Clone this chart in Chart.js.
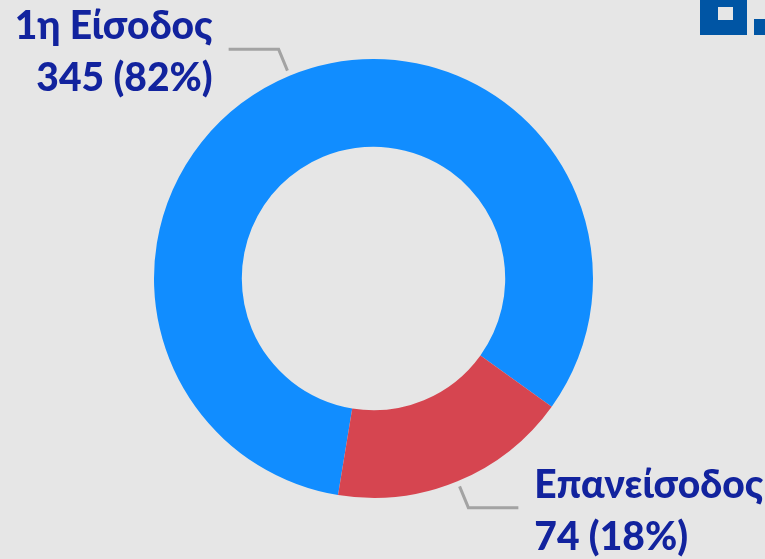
<!DOCTYPE html>
<html>
<head>
<meta charset="utf-8">
<script src="https://cdn.jsdelivr.net/npm/chart.js@4.4.1/dist/chart.umd.min.js"></script>
<style>
html,body{margin:0;padding:0;background:#e6e6e6;}
#wrap{width:765px;height:559px;position:relative;}
</style>
</head>
<body>
<div id="wrap"><canvas id="c" width="765" height="559"></canvas></div>
<script>
const categories = ["1η Είσοδος", "Επανείσοδος"];
const values = [345, 74];
const valueLabels = ["345 (82%)", "74 (18%)"];
const colors = ["#118dff", "#d64550"];

const labelPlugin = {
  id: 'leaderLabels',
  beforeDraw(chart) {
    const ctx = chart.ctx;
    ctx.save();
    ctx.fillStyle = '#0055a4';
    ctx.fillRect(700, 0, 47, 35);
    ctx.fillRect(754, 19, 11, 16);
    ctx.fillStyle = '#e6e6e6';
    ctx.fillRect(718, 7, 15, 13);
    ctx.restore();
  },
  afterDraw(chart) {
    const ctx = chart.ctx;
    const meta = chart.getDatasetMeta(0);
    ctx.save();
    meta.data.forEach((arc, i) => {
      const p = arc.getProps(['x','y','startAngle','endAngle','outerRadius'], true);
      const mid = (p.startAngle + p.endAngle) / 2;
      const c = Math.cos(mid), s = Math.sin(mid);
      const x1 = p.x + c * (p.outerRadius + 5.5), y1 = p.y + s * (p.outerRadius + 5.5);
      const x2 = p.x + c * (p.outerRadius + 28.5), y2 = p.y + s * (p.outerRadius + 28.5);
      const right = c >= 0;
      const x3 = x2 + (right ? 50 : -50);
      ctx.strokeStyle = '#a3a3a3';
      ctx.lineWidth = 3;
      ctx.lineJoin = 'miter';
      ctx.beginPath();
      ctx.moveTo(x1, y1); ctx.lineTo(x2, y2); ctx.lineTo(x3, y2);
      ctx.stroke();
      ctx.fillStyle = '#12239e';
      ctx.font = '900 39px Lato';
      ctx.textBaseline = 'alphabetic';
      ctx.textAlign = right ? 'left' : 'right';
      const tx = x3 + (right ? 16 : -16);
      ctx.fillText(categories[i], tx, y2 - 10);
      ctx.fillText(valueLabels[i], tx, y2 + 42);
    });
    ctx.restore();
  }
};

function build() {
  new Chart(document.getElementById('c'), {
    type: 'doughnut',
    data: {
      labels: categories,
      datasets: [{
        data: values,
        backgroundColor: colors,
        borderWidth: 0,
        hoverOffset: 0
      }]
    },
    options: {
      responsive: false,
      animation: false,
      cutout: '60%',
      rotation: 189.3,
      layout: { padding: { top: 59, bottom: 61, left: 100, right: 118 } },
      plugins: { legend: { display: false }, tooltip: { enabled: false } },
      events: []
    },
    plugins: [labelPlugin]
  });
}
if (document.fonts && document.fonts.load) {
  document.fonts.load('900 39px Lato').then(build, build);
} else build();
</script>
</body>
</html>
